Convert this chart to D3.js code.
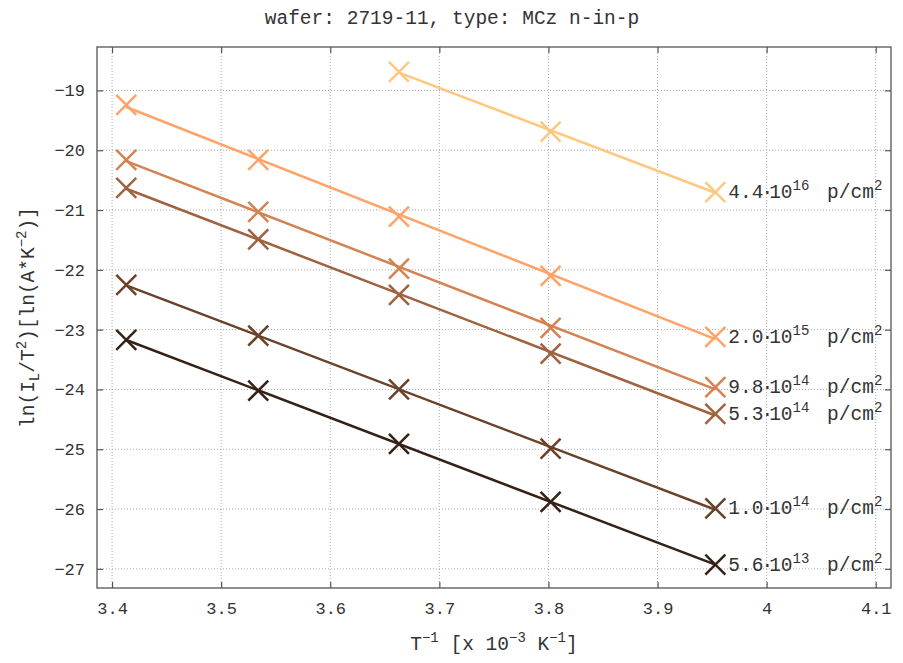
<!DOCTYPE html>
<html>
<head>
<meta charset="utf-8">
<script src="https://cdn.jsdelivr.net/npm/d3@7"></script>
<style>
  body { margin: 0; background: #fff; }
  text { font-family: "Liberation Mono", "DejaVu Sans Mono", monospace; fill: #333; }
</style>
</head>
<body>
<svg id="chart" width="903" height="663"></svg>
<script>
// 1000/T for T = 293, 283, 273, 263, 253 K
var invT = [3.413, 3.534, 3.663, 3.802, 3.953]

var fluenceMant = ['4.4', '2.0', '9.8', '5.3', '1.0', '5.6']
var fluenceExp  = ['16', '15', '14', '14', '14', '13']
var colors = ['#ffc77f', '#ffa368', '#d58253', '#9f623e', '#6a4129', '#352115']

var s44e16 = [null, null, -18.69, -19.69, -20.70]
var s20e15 = [-19.24, -20.16, -21.11, -22.10, -23.12]
var s98e14 = [-20.16, -21.03, -21.98, -22.97, -23.96]
var s53e14 = [-20.63, -21.49, -22.42, -23.40, -24.41]
var s10e14 = [-22.25, -23.10, -24.00, -24.99, -25.99]
var s56e13 = [-23.17, -24.02, -24.91, -25.88, -26.93]

var xTicks = [3.4, 3.5, 3.6, 3.7, 3.8, 3.9, 4, 4.1]
var yTicks = [-19, -20, -21, -22, -23, -24, -25, -26, -27]

var series = [s44e16, s20e15, s98e14, s53e14, s10e14, s56e13].map(function(v, i) {
  var pts = []
  v.forEach(function(y, j) { if (y !== null) pts.push({ x: invT[j], y: y }) })
  return { pts: pts, color: colors[i], mant: fluenceMant[i], exp: fluenceExp[i] }
})

var pLeft = 97, pRight = 891, pTop = 47, pBottom = 588

var x = d3.scaleLinear().domain([3.3862, 4.114]).range([pLeft, pRight])
var y = d3.scaleLinear().domain([-27.32, -18.274]).range([pBottom, pTop])

var svg = d3.select('#chart')

// grid
svg.append('g').selectAll('line')
    .data(xTicks)
    .enter()
    .append('line')
    .attr('x1', function(d) { return x(d) })
    .attr('x2', function(d) { return x(d) })
    .attr('y1', pTop).attr('y2', pBottom)
    .attr('stroke', '#aaa').attr('stroke-width', 1).attr('stroke-dasharray', '1,2')

svg.append('g').selectAll('line')
    .data(yTicks)
    .enter()
    .append('line')
    .attr('y1', function(d) { return y(d) })
    .attr('y2', function(d) { return y(d) })
    .attr('x1', pLeft).attr('x2', pRight)
    .attr('stroke', '#aaa').attr('stroke-width', 1).attr('stroke-dasharray', '1,2')

// axes with inward ticks
var tickFmt = function(d) { return String(d).replace('-', '\u2212') }
svg.append('g').attr('transform', 'translate(0,' + pBottom + ')')
    .call(d3.axisBottom(x).tickValues(xTicks).tickSizeInner(-6).tickSizeOuter(0).tickPadding(14).tickFormat(tickFmt))
svg.append('g').attr('transform', 'translate(0,' + pTop + ')')
    .call(d3.axisTop(x).tickValues(xTicks).tickSizeInner(-6).tickSizeOuter(0).tickFormat(''))
svg.append('g').attr('transform', 'translate(' + pLeft + ',0)')
    .call(d3.axisLeft(y).tickValues(yTicks).tickSizeInner(-6).tickSizeOuter(0).tickPadding(12).tickFormat(tickFmt))
svg.append('g').attr('transform', 'translate(' + pRight + ',0)')
    .call(d3.axisRight(y).tickValues(yTicks).tickSizeInner(-6).tickSizeOuter(0).tickFormat(''))

svg.selectAll('.domain').remove()
svg.selectAll('.tick line').attr('stroke', '#555').attr('stroke-width', 1.2)
svg.selectAll('.tick text').attr('font-size', '17px').attr('fill', '#333')
    .attr('font-family', '"Liberation Mono", monospace')

svg.append('rect')
    .attr('x', pLeft).attr('y', pTop)
    .attr('width', pRight - pLeft).attr('height', pBottom - pTop)
    .attr('fill', 'none').attr('stroke', '#555').attr('stroke-width', 1.3)

// fit lines
function fit(pts) {
  var mx = d3.mean(pts, function(p) { return p.x }), my = d3.mean(pts, function(p) { return p.y })
  var sxy = d3.sum(pts, function(p) { return (p.x - mx) * (p.y - my) })
  var sxx = d3.sum(pts, function(p) { return (p.x - mx) * (p.x - mx) })
  var b = sxy / sxx
  return function(v) { return my + b * (v - mx) }
}

var g = svg.append('g').selectAll('g')
    .data(series)
    .enter()
    .append('g')

g.append('line')
    .each(function(d) {
      var f = fit(d.pts), x0 = d.pts[0].x, x1 = d.pts[d.pts.length - 1].x
      d3.select(this)
        .attr('x1', x(x0)).attr('y1', y(f(x0)))
        .attr('x2', x(x1)).attr('y2', y(f(x1)))
    })
    .attr('stroke', function(d) { return d.color })
    .attr('stroke-width', 2.5)

g.selectAll('path')
    .data(function(d) { return d.pts.map(function(p) { return { p: p, c: d.color } }) })
    .enter()
    .append('path')
    .attr('d', function(d) {
      var cx = x(d.p.x), cy = y(d.p.y), r = 10
      return 'M' + (cx - r) + ',' + (cy - r) + 'L' + (cx + r) + ',' + (cy + r) +
             'M' + (cx - r) + ',' + (cy + r) + 'L' + (cx + r) + ',' + (cy - r)
    })
    .attr('stroke', function(d) { return d.c })
    .attr('stroke-width', 2.5)
    .attr('fill', 'none')

// fluence labels
var lab = g.append('text')
    .attr('x', function(d) { return x(d.pts[d.pts.length - 1].x) + 13 })
    .attr('y', function(d) { return y(d.pts[d.pts.length - 1].y) + 6 })
    .attr('font-size', '19.5px')
lab.append('tspan').text(function(d) { return d.mant })
lab.append('tspan').attr('dx', -2).text('\u00b7')
lab.append('tspan').attr('dx', -4).text('10')
lab.append('tspan').attr('dy', -8).attr('font-size', '14px').text(function(d) { return d.exp })
lab.append('tspan').attr('dy', 8).attr('dx', 6).attr('xml:space', 'preserve').text(' p/cm')
lab.append('tspan').attr('dy', -8).attr('font-size', '14px').text('2')

// title
svg.append('text')
    .attr('x', 452).attr('y', 24)
    .attr('text-anchor', 'middle').attr('font-size', '19.5px')
    .text('wafer: 2719-11, type: MCz n-in-p')

// x axis label
var xl = svg.append('text')
    .attr('x', (pLeft + pRight) / 2).attr('y', 650)
    .attr('text-anchor', 'middle').attr('font-size', '19.5px')
xl.append('tspan').text('T')
xl.append('tspan').attr('dy', -8).attr('font-size', '14px').text('\u22121')
xl.append('tspan').attr('dy', 8).attr('xml:space', 'preserve').text(' [x 10')
xl.append('tspan').attr('dy', -8).attr('font-size', '14px').text('\u22123')
xl.append('tspan').attr('dy', 8).attr('xml:space', 'preserve').text(' K')
xl.append('tspan').attr('dy', -8).attr('font-size', '14px').text('\u22121')
xl.append('tspan').attr('dy', 8).text(']')

// y axis label
var yl = svg.append('text')
    .attr('transform', 'translate(34,' + ((pTop + pBottom) / 2) + ') rotate(-90)')
    .attr('text-anchor', 'middle').attr('font-size', '19.5px')
yl.append('tspan').text('ln(I')
yl.append('tspan').attr('dy', 5).attr('font-size', '14px').text('L')
yl.append('tspan').attr('dy', -5).text('/T')
yl.append('tspan').attr('dy', -8).attr('font-size', '14px').text('2')
yl.append('tspan').attr('dy', 8).text(')[ln(A*K')
yl.append('tspan').attr('dy', -8).attr('font-size', '14px').text('\u22122')
yl.append('tspan').attr('dy', 8).text(')]')
</script>
</body>
</html>
